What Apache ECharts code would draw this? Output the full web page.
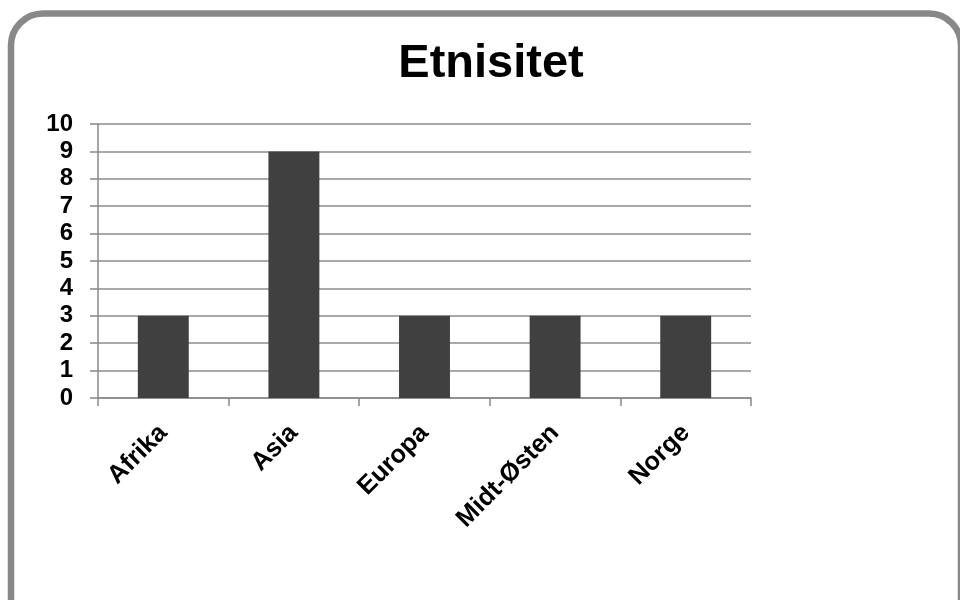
<!DOCTYPE html>
<html><head><meta charset="utf-8">
<script src="https://cdn.jsdelivr.net/npm/echarts@6/dist/echarts.min.js"></script>
<style>html,body{margin:0;padding:0;background:#fff}#c{width:960px;height:600px}</style>
</head><body><div id="c"></div>
<script>
var categories = ['Afrika', 'Asia', 'Europa', 'Midt-Østen', 'Norge'];
var values = [3, 9, 3, 3, 3];
var titleText = 'Etnisitet';

var chart = echarts.init(document.getElementById('c'));
chart.setOption({
  animation: false,
  backgroundColor: '#fff',
  graphic: [{
    type: 'rect',
    shape: { x: 11, y: 13.5, width: 950, height: 620, r: 32 },
    style: { fill: 'none', stroke: '#888888', lineWidth: 6.5 },
    z: -1
  }],
  title: {
    text: titleText, left: 486, top: 36, textAlign: 'center',
    textStyle: { fontFamily: 'Liberation Sans, Arial', fontWeight: 'bold', fontSize: 47, color: '#000' }
  },
  grid: { left: 98, right: 209, top: 124, bottom: 202, containLabel: false },
  xAxis: {
    type: 'category', data: categories,
    axisLine: { lineStyle: { color: '#888', width: 1.5 } },
    axisTick: { show: true, length: 8, alignWithLabel: false, lineStyle: { color: '#888', width: 1.5 } },
    axisLabel: { rotate: 45, margin: 31, color: '#000', fontFamily: 'Liberation Sans, Arial', fontWeight: 'bold', fontSize: 25.5, interval: 0 }
  },
  yAxis: {
    type: 'value', min: 0, max: 10, interval: 1,
    axisLine: { show: true, lineStyle: { color: '#888', width: 1.5 } },
    axisTick: { show: true, length: 8, lineStyle: { color: '#888', width: 1.5 } },
    splitLine: { lineStyle: { color: '#8c8c8c', width: 1.5 } },
    axisLabel: { margin: 25, color: '#000', fontFamily: 'Liberation Sans, Arial', fontWeight: 'bold', fontSize: 24 }
  },
  series: [{
    type: 'bar', data: values, barWidth: '39%',
    itemStyle: { color: '#404040' }
  }]
});
</script></body></html>
